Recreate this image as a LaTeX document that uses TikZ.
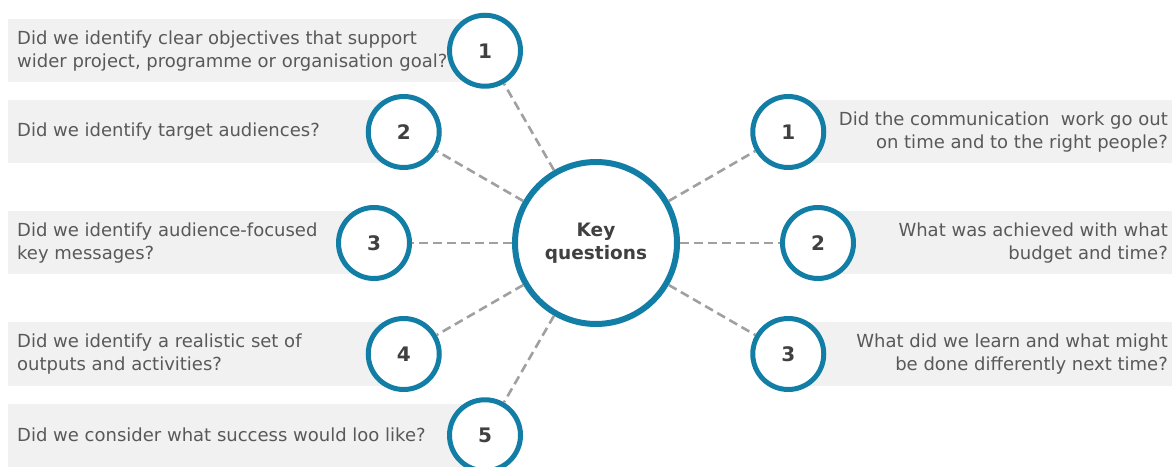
\documentclass[tikz,border=0pt]{standalone}
\usepackage{fontspec}
\setmainfont{DejaVu Sans}
\usepackage{tikz}
\usetikzlibrary{calc}

\definecolor{ringblue}{RGB}{18,126,166}
\definecolor{boxgray}{RGB}{241,241,241}
\definecolor{textgray}{RGB}{89,89,89}
\definecolor{numgray}{RGB}{64,64,64}
\definecolor{linkgray}{RGB}{160,160,160}

\begin{document}
\begin{tikzpicture}[x=1pt,y=1pt,
    numring/.style={circle,draw=ringblue,line width=5pt,fill=white,minimum size=71pt,inner sep=0pt,text=numgray,font=\fontsize{20}{24}\selectfont\bfseries},
    keyring/.style={circle,draw=ringblue,line width=6pt,fill=white,minimum size=162pt,inner sep=0pt,align=center,text=numgray,font=\fontsize{18.5}{23}\selectfont\bfseries},
    qtext/.style={inner sep=0pt,text=textgray,font=\fontsize{18}{23}\selectfont},
    link/.style={draw=linkgray,line width=2.6pt,dash pattern=on 9pt off 5pt}]
  \useasboundingbox (0,0) rectangle (1172,466);

  \coordinate(mid) at (596,223);
  \coordinate(lft) at (8,0);
  \coordinate(rgt) at (1172,0);

  % planning questions
  \foreach \n / \a / \txt in {1/120/{Did we identify clear objectives that support\\wider project, programme or organisation goal?},
                              2/150/{Did we identify target audiences?},
                              3/180/{Did we identify audience-focused\\key messages?},
                              4/210/{Did we identify a realistic set of\\outputs and activities?},
                              5/240/{Did we consider what success would loo like?}}
  {
    \coordinate(l\n) at ($(mid)+(\a:222)$);
    \fill[boxgray] ($(lft |- l\n)+(0,-31.5)$) rectangle ($(l\n)+(0,31.5)$);
    \node(lq\n) at ($(lft |- l\n)+(9,0)$) [qtext,anchor=west,align=left] {\txt};
  }

  % review questions
  \foreach \n / \a / \txt in {1/30/{Did the communication\ \ work go out\\on time and to the right people?},
                              2/0/{What was achieved with what\\budget and time?},
                              3/-30/{What did we learn and what might\\be done differently next time?}}
  {
    \coordinate(r\n) at ($(mid)+(\a:222)$);
    \fill[boxgray] ($(r\n)+(0,-31.5)$) rectangle ($(rgt |- r\n)+(0,31.5)$);
    \node(rq\n) at ($(rgt |- r\n)+(-4,0)$) [qtext,anchor=east,align=right] {\txt};
  }

  \node(key) at (mid) [keyring] {Key\\questions};

  \foreach \n in {1,...,5}
  {
    \node(ln\n) at (l\n) [numring] {\n};
    \draw[link] (key) -- (ln\n);
  }
  \foreach \n in {1,2,3}
  {
    \node(rn\n) at (r\n) [numring] {\n};
    \draw[link] (key) -- (rn\n);
  }
\end{tikzpicture}
\end{document}
